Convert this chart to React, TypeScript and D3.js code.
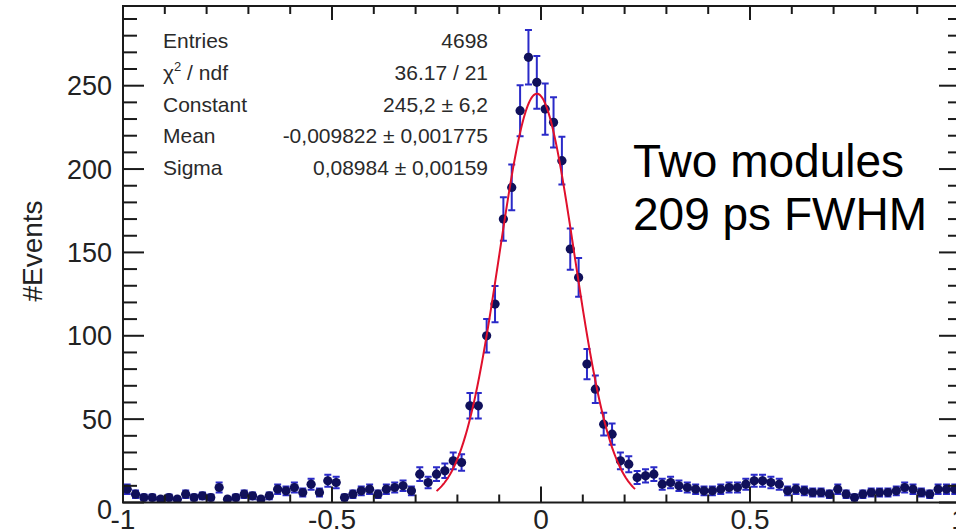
import React from "react";
import * as d3 from "d3";

// Histogram definition
const xRange: [number, number] = [-1, 1];
const yMax = 297.8;
// bin contents (100 bins of width 0.02)
const counts = [
  8, 5, 3, 3, 2, 3, 2, 5, 3, 4,
  3, 9, 2, 3, 5, 4, 2, 4, 8, 7,
  9, 6, 11, 6, 13, 12, 3, 5, 7, 8,
  5, 8, 9, 10, 7, 17, 12, 17, 19, 25,
  24, 58, 58, 100, 119, 170, 189, 235, 267, 252,
  236, 228, 205, 152, 135, 83, 68, 47, 41, 25,
  23, 15, 16, 17, 11, 12, 10, 9, 8, 7,
  7, 8, 9, 9, 11, 13, 13, 12, 11, 7,
  8, 7, 6, 6, 5, 8, 5, 3, 5, 6,
  6, 6, 7, 9, 8, 6, 5, 8, 8, 8,
];

// Gaussian fit parameters
const fitConstant = 245.2;
const fitMean = -0.009822;
const fitSigma = 0.08984;
const fitRange: [number, number] = [-0.25, 0.225];

// Axis ticks
const xMajorTicks = [-1, -0.5, 0, 0.5, 1];
const xTickLabels = ["-1", "-0.5", "0", "0.5", "1"];
const yMajorTicks = [0, 50, 100, 150, 200, 250];
const yTickLabels = ["0", "50", "100", "150", "200", "250"];

// Stats box
const statNames = ["Entries", "χ2 / ndf", "Constant", "Mean", "Sigma"];
const statValues = ["4698", "36.17 / 21", "245,2 ± 6,2", "-0,009822 ± 0,001775", "0,08984 ± 0,00159"];

const annotation = ["Two modules", "209 ps FWHM"];
const yTitle = "#Events";

const W = 956;
const H = 532;
const L = 123, R = 959, T = 6, B = 502.5;
const FONT = "'Liberation Sans', Arial, Helvetica, sans-serif";

export default function App() {
  const x = d3.scaleLinear().domain(xRange).range([L, R]);
  const y = d3.scaleLinear().domain([0, yMax]).range([B, T]);
  const nb = counts.length;
  const bw = (xRange[1] - xRange[0]) / nb;

  const xMinor = d3.range(-10, 11).map((i) => i / 10).filter((v) => !xMajorTicks.some((m) => Math.abs(m - v) < 1e-9));
  const yMinor = d3.range(0, yMax, 10).filter((v) => v % 50 !== 0);

  const fitPts = d3.range(0, 201).map((i) => {
    const xv = fitRange[0] + ((fitRange[1] - fitRange[0]) * i) / 200;
    const z = (xv - fitMean) / fitSigma;
    return [xv, fitConstant * Math.exp(-0.5 * z * z)] as [number, number];
  });
  const line = d3.line<[number, number]>().x((d) => x(d[0])).y((d) => y(d[1])).curve(d3.curveLinear);

  const markColor = "#10105a";
  const errColor = "#2a2ac8";

  const statY = [48, 80, 112, 143, 175];

  return (
    <svg width={W} height={H} style={{ position: "absolute", left: 0, top: 0, background: "#fff" }} fontFamily={FONT}>
      <rect x={0} y={0} width={W} height={H} fill="#fff" />
      <defs>
        <clipPath id="plot">
          <rect x={L} y={T} width={R - L} height={B - T} />
        </clipPath>
      </defs>

      {/* data */}
      <g clipPath="url(#plot)">
        {counts.map((c, i) => {
          const cx = x(xRange[0] + (i + 0.5) * bw);
          const e = Math.sqrt(c);
          const y1 = y(c + e), y2 = y(Math.max(0, c - e));
          const x0 = x(xRange[0] + i * bw), x1 = x(xRange[0] + (i + 1) * bw);
          return (
            <g key={i} stroke={errColor} strokeWidth={2}>
              <line x1={cx} x2={cx} y1={y1} y2={y2} />
              <line x1={cx - 3.5} x2={cx + 3.5} y1={y1} y2={y1} />
              <line x1={cx - 3.5} x2={cx + 3.5} y1={y2} y2={y2} />
              <line x1={x0} x2={x1} y1={y(c)} y2={y(c)} />
            </g>
          );
        })}
        {counts.map((c, i) => (
          <circle key={"m" + i} cx={x(xRange[0] + (i + 0.5) * bw)} cy={y(c)} r={4.6} fill={markColor} />
        ))}
        <path d={line(fitPts) || ""} fill="none" stroke="#e0102c" strokeWidth={2} />
      </g>

      {/* stats box */}
      <g fontSize={21} fill="#2a2a2a">
        {statNames.map((n, i) => (
          <text key={n} x={163} y={statY[i]}>
            {i === 1 ? (
              <>
                χ<tspan fontSize={13} dy={-9}>2</tspan>
                <tspan dy={9}> / ndf</tspan>
              </>
            ) : (
              n
            )}
          </text>
        ))}
        {statValues.map((v, i) => (
          <text key={"v" + i} x={488} y={statY[i]} textAnchor="end">
            {v}
          </text>
        ))}
      </g>

      {/* frame */}
      <rect x={L} y={T} width={R - L} height={B - T} fill="none" stroke="#1a1a1a" strokeWidth={2} />

      {/* ticks */}
      <g stroke="#1a1a1a" strokeWidth={2}>
        {xMajorTicks.map((t) => (
          <g key={"xm" + t}>
            <line x1={x(t)} x2={x(t)} y1={B} y2={B - 16} />
            <line x1={x(t)} x2={x(t)} y1={T} y2={T + 14} />
          </g>
        ))}
        {xMinor.map((t) => (
          <g key={"xn" + t}>
            <line x1={x(t)} x2={x(t)} y1={B} y2={B - 8} />
            <line x1={x(t)} x2={x(t)} y1={T} y2={T + 8} />
          </g>
        ))}
        {yMajorTicks.map((t) => (
          <g key={"ym" + t}>
            <line x1={L} x2={L + 21} y1={y(t)} y2={y(t)} />
            <line x1={R} x2={R - 20} y1={y(t)} y2={y(t)} />
          </g>
        ))}
        {yMinor.map((t) => (
          <g key={"yn" + t}>
            <line x1={L} x2={L + 14} y1={y(t)} y2={y(t)} />
            <line x1={R} x2={R - 11} y1={y(t)} y2={y(t)} />
          </g>
        ))}
      </g>

      {/* tick labels */}
      <g fontSize={28} fill="#222">
        {xMajorTicks.map((t, i) => (
          <text key={"xl" + t} x={x(t)} y={529} textAnchor="middle">
            {xTickLabels[i]}
          </text>
        ))}
      </g>
      <g fontSize={27} fill="#222">
        {yMajorTicks.map((t, i) => (
          <text key={"yl" + t} x={112} y={t === 0 ? 509 : y(t)} dy="0.36em" textAnchor="end">
            {yTickLabels[i]}
          </text>
        ))}
      </g>
      <text x={42} y={251} transform="rotate(-90 42 251)" textAnchor="middle" fontSize={28} fill="#222">
        {yTitle}
      </text>

      {/* annotation */}
      <g fontSize={46} fill="#000">
        <text x={633} y={177}>{annotation[0]}</text>
        <text x={633} y={230}>{annotation[1]}</text>
      </g>
    </svg>
  );
}
